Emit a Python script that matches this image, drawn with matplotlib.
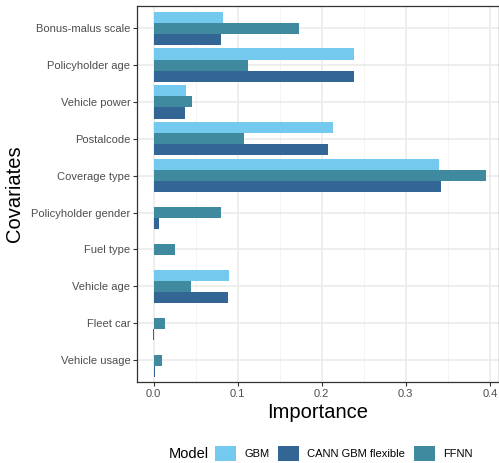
import numpy as np
import matplotlib
matplotlib.use("Agg")
import matplotlib.pyplot as plt
from matplotlib.patches import Patch

plt.rcParams['font.family'] = ['Liberation Sans', 'DejaVu Sans']

covariates = ["Bonus-malus scale", "Policyholder age", "Vehicle power", "Postalcode",
              "Coverage type", "Policyholder gender", "Fuel type", "Vehicle age",
              "Fleet car", "Vehicle usage"]
gbm = [0.082, 0.238, 0.038, 0.213, 0.340, 0.0, 0.0, 0.090, 0.0, 0.0]
ffnn = [0.173, 0.112, 0.046, 0.107, 0.396, 0.080, 0.025, 0.044, 0.013, 0.0095]
cann = [0.080, 0.238, 0.037, 0.208, 0.342, 0.006, 0.001, 0.089, -0.001, 0.002]

models = ["GBM", "CANN GBM flexible", "FFNN"]
colors = {"GBM": "#74C9EF", "CANN GBM flexible": "#336694", "FFNN": "#3F8A9F"}

fig = plt.figure(figsize=(4.99, 4.63), dpi=100)
ax = fig.add_axes([0.275, 0.1743, 0.725, 0.8127])

y = np.arange(len(covariates))
h = 0.3
ax.barh(y - h, gbm, height=h, color=colors["GBM"], zorder=3)
ax.barh(y, ffnn, height=h, color=colors["FFNN"], zorder=3)
ax.barh(y + h, cann, height=h, color=colors["CANN GBM flexible"], zorder=3)

ax.set_ylim(len(covariates) - 0.4, -0.6)
ax.set_xlim(-0.0195, 0.411)
ax.set_yticks(y)
ax.set_yticklabels(covariates)
ax.set_xticks([0, 0.1, 0.2, 0.3, 0.4])
ax.set_xticklabels(["0.0", "0.1", "0.2", "0.3", "0.4"])
ax.set_xticks([0.05, 0.15, 0.25, 0.35], minor=True)
ax.tick_params(which='major', length=3, width=0.8, color='#333333',
               labelcolor='#4D4D4D', labelsize=8, pad=2)
ax.tick_params(which='minor', length=0)

ax.grid(which='major', color='#EBEBEB', linewidth=1.2, zorder=0)
ax.grid(which='minor', axis='x', color='#F2F2F2', linewidth=0.6, zorder=0)
ax.set_axisbelow(True)
for s in ax.spines.values():
    s.set_color('#333333')
    s.set_linewidth(0.9)

ax.set_xlabel("Importance", fontsize=14.5, labelpad=3)
ax.set_ylabel("Covariates", fontsize=14.5, labelpad=5)

handles = [Patch(facecolor=colors[m], edgecolor='none') for m in models]
fig.text(169 / 499, 1 - 454 / 463, "Model", fontsize=10.5, va='center', ha='left')
fig.legend(handles, models, loc='center left', bbox_to_anchor=(215 / 499, 1 - 453 / 463),
           ncol=3, frameon=False, fontsize=8, handlelength=1.9, handleheight=1.7,
           columnspacing=0.75, handletextpad=0.75, borderpad=0, borderaxespad=0)

fig.savefig("out.png", dpi=100)
